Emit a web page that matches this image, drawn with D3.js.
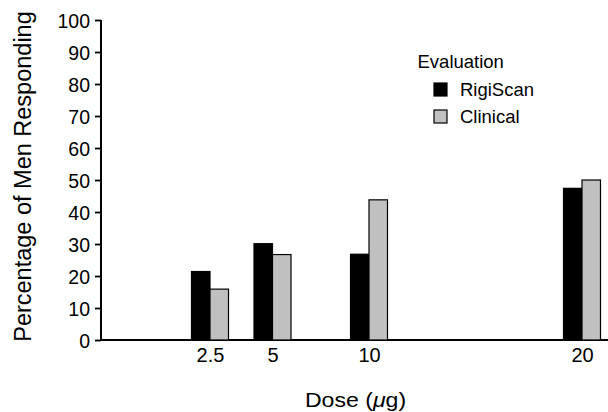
<!DOCTYPE html>
<html>
<head>
<meta charset="utf-8">
<script src="https://cdn.jsdelivr.net/npm/d3@7"></script>
<style>
  body { margin: 0; background: #fff; }
  text { font-family: "Liberation Sans", Arial, Helvetica, sans-serif; fill: #000; }
</style>
</head>
<body>
<div id="chart"></div>
<script>
// data
var doses = [2.5, 5, 10, 20];
var doseLabels = ["2.5", "5", "10", "20"];
var rigiscan = [21.4, 30.1, 26.8, 47.4];
var clinical = [15.9, 26.7, 43.8, 50.0];
var seriesNames = ["RigiScan", "Clinical"];
var seriesColors = ["#000000", "#c0c0c0"];
var yTicks = [0, 10, 20, 30, 40, 50, 60, 70, 80, 90, 100];

var W = 608, H = 412;

var svg = d3.select("#chart").append("svg")
    .attr("width", W)
    .attr("height", H);

var y = d3.scaleLinear()
    .domain([0, 100])
    .range([340, 20]);

// dose positions on the original figure are not evenly spaced
var x = d3.scaleLinear()
    .domain(doses)
    .range([210, 272.5, 369, 582]);

var barW = 18.5;

// y axis
var yAxis = svg.append("g")
    .attr("transform", "translate(101,0)")
    .call(d3.axisLeft(y).tickValues(yTicks).tickSize(6).tickPadding(5));
yAxis.select(".domain").attr("stroke", "#000").attr("stroke-width", 2)
    .attr("d", "M0," + y(100) + "V" + y(0));
yAxis.selectAll(".tick line").attr("stroke", "#000").attr("stroke-width", 1.8);
yAxis.selectAll(".tick text")
    .style("font-size", "19.5px")
    .attr("dy", "0.37em")
    .style("font-family", "'Liberation Sans', Arial, sans-serif");

// x axis line, no ticks
var xAxis = svg.append("g")
    .attr("transform", "translate(0,340)")
    .call(d3.axisBottom(x).tickValues(doses).tickFormat(function(d, i) { return doseLabels[i]; })
        .tickSize(0).tickPadding(7.5));
xAxis.select(".domain").attr("stroke", "#000").attr("stroke-width", 2)
    .attr("d", "M101,0H608");
xAxis.selectAll(".tick text")
    .style("font-size", "20px")
    .style("font-family", "'Liberation Sans', Arial, sans-serif");

// bars
var groups = [rigiscan, clinical];
groups.forEach(function(vals, s) {
    svg.append("g").selectAll("rect")
        .data(vals)
        .enter().append("rect")
        .attr("x", function(d, i) { return x(doses[i]) + (s === 0 ? -barW : 0); })
        .attr("y", function(d) { return y(d); })
        .attr("width", barW)
        .attr("height", function(d) { return y(0) - y(d); })
        .attr("fill", seriesColors[s])
        .attr("stroke", "#000")
        .attr("stroke-width", 1.2);
});

// axis titles
svg.append("text")
    .attr("transform", "translate(30.5,176.5) rotate(-90)")
    .attr("text-anchor", "middle")
    .style("font-size", "23.5px")
    .text("Percentage of Men Responding");

var xt = svg.append("text")
    .attr("transform", "translate(355.5,406.5) scale(1.1,1)")
    .attr("text-anchor", "middle")
    .style("font-size", "21px");
xt.append("tspan").text("Dose (");
xt.append("tspan").style("font-style", "italic").text("\u03bc");
xt.append("tspan").text("g)");

// legend
var legend = svg.append("g");
legend.append("text")
    .attr("x", 417.5)
    .attr("y", 68)
    .style("font-size", "18.5px")
    .text("Evaluation");

var items = legend.selectAll(".item")
    .data(seriesNames)
    .enter().append("g")
    .attr("class", "item")
    .attr("transform", function(d, i) { return "translate(0," + (i * 27) + ")"; });

items.append("rect")
    .attr("x", 434)
    .attr("y", 83)
    .attr("width", 13)
    .attr("height", 13)
    .attr("fill", function(d, i) { return seriesColors[i]; })
    .attr("stroke", "#000")
    .attr("stroke-width", 1.2);

items.append("text")
    .attr("x", 460)
    .attr("y", 96)
    .style("font-size", "18.5px")
    .text(function(d) { return d; });
</script>
</body>
</html>
